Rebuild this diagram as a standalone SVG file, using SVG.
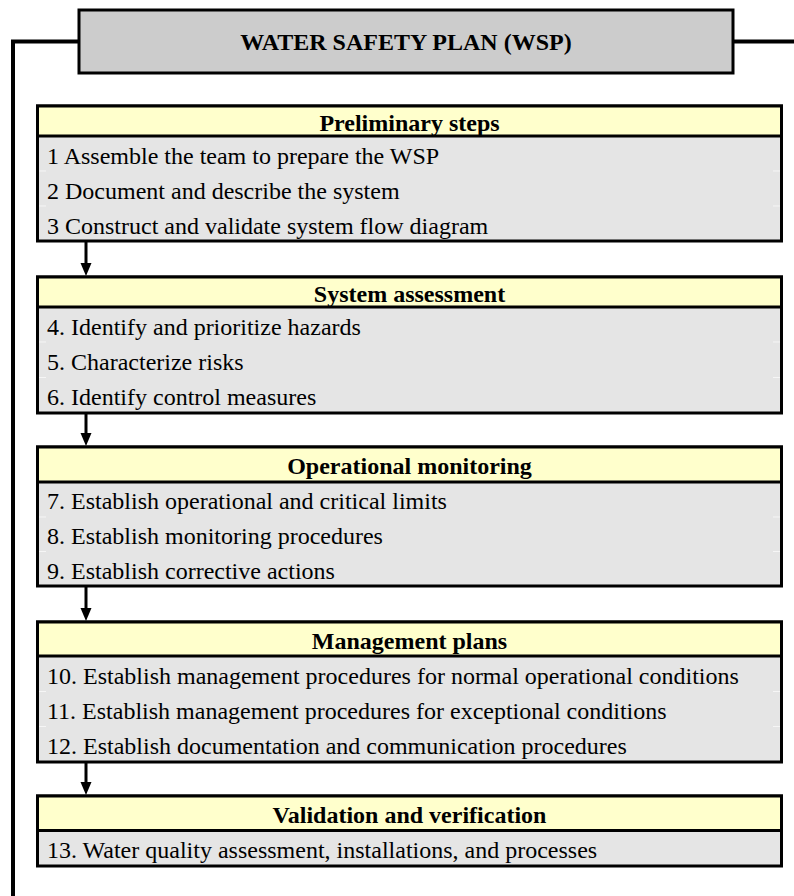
<svg xmlns="http://www.w3.org/2000/svg" width="794" height="896" viewBox="0 0 794 896">
<style>
.t{font-family:"Liberation Serif","Times New Roman",serif;font-size:24px;fill:#000}
.b{font-weight:bold;text-anchor:middle}
.hdr{fill:#ffffcc;stroke:#000;stroke-width:3}
.body{fill:#e5e5e5;stroke:#000;stroke-width:3}
.sep{stroke:#f6f6f6;stroke-width:1}
.con{stroke:#000;stroke-width:3;fill:none}
.frame{stroke:#000;stroke-width:4;fill:none}
</style>
<defs>
<marker id="ah" markerWidth="10" markerHeight="12" refX="5" refY="12" orient="auto-start-reverse" markerUnits="userSpaceOnUse" viewBox="0 0 10 12">
<path d="M0,0 L10,0 L5,12 Z" fill="#000" transform="rotate(-90 5 6) translate(0 0)"/>
</marker>
</defs>
<rect width="794" height="896" fill="#fff"/>
<g id="connectors">
<polyline class="frame" points="78,41.5 13,41.5 13,896"/>
<line class="frame" x1="734" y1="41.5" x2="794" y2="41.5"/>
<g>
<line class="con" x1="86" y1="242" x2="86" y2="264"/>
<path d="M80.5,263 L91.5,263 L86,276 Z"/>
<line class="con" x1="86" y1="414" x2="86" y2="434"/>
<path d="M80.5,433 L91.5,433 L86,446 Z"/>
<line class="con" x1="86" y1="587" x2="86" y2="609"/>
<path d="M80.5,608 L91.5,608 L86,621 Z"/>
<line class="con" x1="86" y1="763" x2="86" y2="783"/>
<path d="M80.5,782 L91.5,782 L86,795 Z"/>
</g>
</g>
<g id="title">
<rect x="79" y="10" width="654" height="63" fill="#cccccc" stroke="#000" stroke-width="3"/>
<text class="t b" x="406" y="50">WATER SAFETY PLAN (WSP)</text>
</g>
<g id="preliminary">
<rect class="body" x="37.5" y="106" width="744" height="135"/>
<rect class="hdr" x="37.5" y="106" width="744" height="30"/>
<line class="sep" x1="39" y1="171" x2="46" y2="171"/><line class="sep" x1="773" y1="171" x2="780" y2="171"/>
<line class="sep" x1="39" y1="206" x2="46" y2="206"/><line class="sep" x1="773" y1="206" x2="780" y2="206"/>
<text class="t b" x="409.5" y="131">Preliminary steps</text>
<text class="t" x="47" y="163.5">1 Assemble the team to prepare the WSP</text>
<text class="t" x="47" y="198.5">2 Document and describe the system</text>
<text class="t" x="47" y="233.5">3 Construct and validate system flow diagram</text>
</g>
<g id="assessment">
<rect class="body" x="37.5" y="277" width="744" height="136"/>
<rect class="hdr" x="37.5" y="277" width="744" height="30"/>
<line class="sep" x1="39" y1="342" x2="46" y2="342"/><line class="sep" x1="773" y1="342" x2="780" y2="342"/>
<line class="sep" x1="39" y1="377.5" x2="46" y2="377.5"/><line class="sep" x1="773" y1="377.5" x2="780" y2="377.5"/>
<text class="t b" x="409.5" y="302">System assessment</text>
<text class="t" x="47" y="334.5">4. Identify and prioritize hazards</text>
<text class="t" x="47" y="370">5. Characterize risks</text>
<text class="t" x="47" y="405">6. Identify control measures</text>
</g>
<g id="monitoring">
<rect class="body" x="37.5" y="447" width="744" height="139"/>
<rect class="hdr" x="37.5" y="447" width="744" height="35"/>
<line class="sep" x1="39" y1="517" x2="46" y2="517"/><line class="sep" x1="773" y1="517" x2="780" y2="517"/>
<line class="sep" x1="39" y1="551.5" x2="46" y2="551.5"/><line class="sep" x1="773" y1="551.5" x2="780" y2="551.5"/>
<text class="t b" x="409.5" y="474">Operational monitoring</text>
<text class="t" x="47" y="509">7. Establish operational and critical limits</text>
<text class="t" x="47" y="544">8. Establish monitoring procedures</text>
<text class="t" x="47" y="578.5">9. Establish corrective actions</text>
</g>
<g id="management">
<rect class="body" x="37.5" y="622" width="744" height="140"/>
<rect class="hdr" x="37.5" y="622" width="744" height="34"/>
<line class="sep" x1="39" y1="691.5" x2="46" y2="691.5"/><line class="sep" x1="773" y1="691.5" x2="780" y2="691.5"/>
<line class="sep" x1="39" y1="726.5" x2="46" y2="726.5"/><line class="sep" x1="773" y1="726.5" x2="780" y2="726.5"/>
<text class="t b" x="409.5" y="648.5">Management plans</text>
<text class="t" x="47" y="683.5">10. Establish management procedures for normal operational conditions</text>
<text class="t" x="47" y="719">11. Establish management procedures for exceptional conditions</text>
<text class="t" x="47" y="754">12. Establish documentation and communication procedures</text>
</g>
<g id="validation">
<rect class="body" x="37.5" y="796" width="744" height="70"/>
<rect class="hdr" x="37.5" y="796" width="744" height="34.5"/>
<text class="t b" x="409.5" y="822.5">Validation and verification</text>
<text class="t" x="47" y="858">13. Water quality assessment, installations, and processes</text>
</g>
</svg>
